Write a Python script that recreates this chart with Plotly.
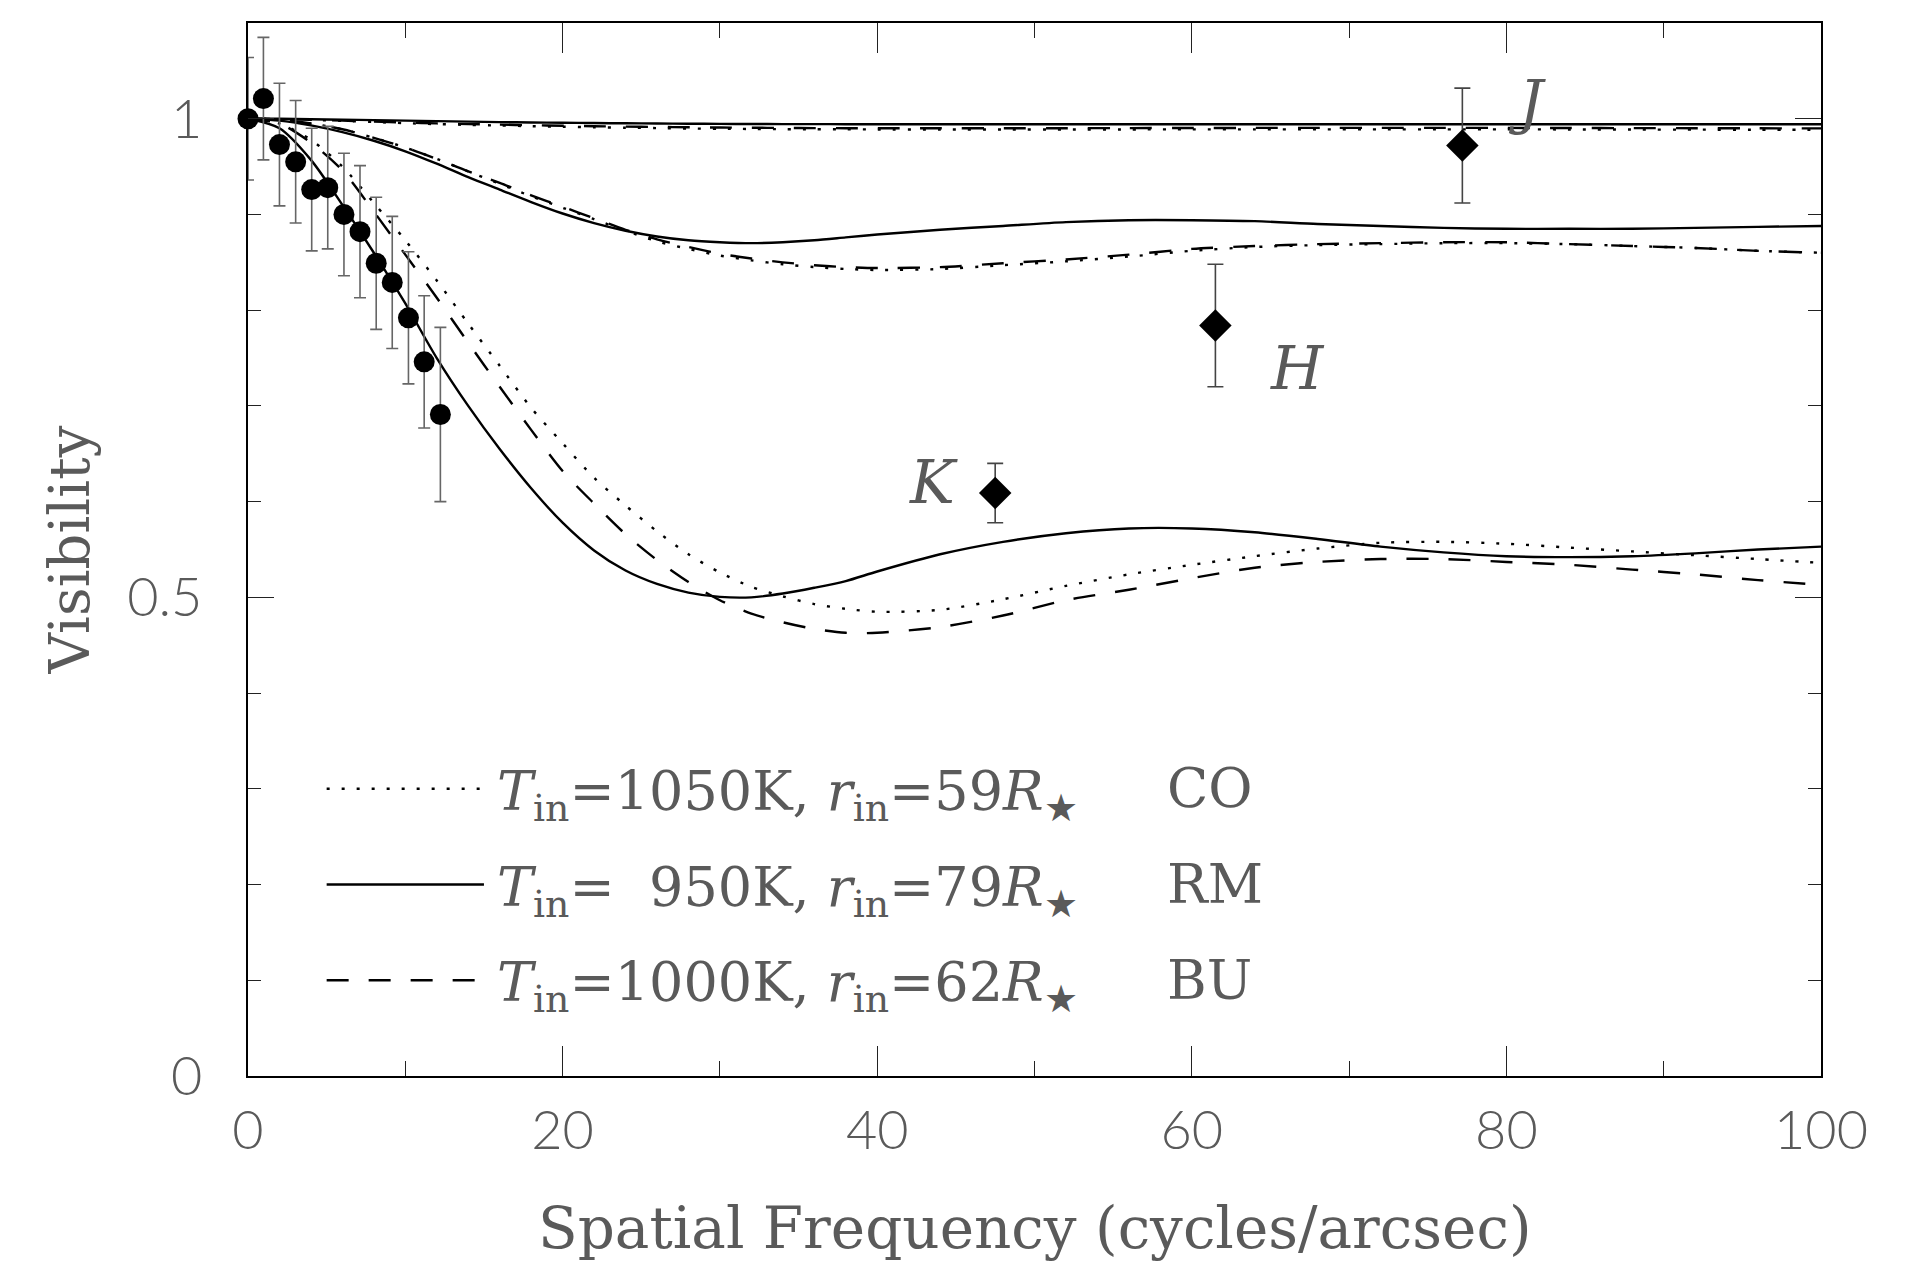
import plotly.graph_objects as go

# ---------------- data ----------------
freq = [0, 2, 4, 6, 8, 10, 12, 14, 16, 18, 20, 22, 24, 26, 28, 30, 32, 34, 36, 38,
        40, 44, 48, 52, 56, 60, 64, 68, 72, 76, 80, 84, 88, 92, 96, 100]

# K band models
k_co = [1.0, 0.995, 0.978, 0.950, 0.912, 0.873, 0.831, 0.786, 0.742, 0.698, 0.661,
        0.625, 0.596, 0.569, 0.545, 0.526, 0.511, 0.501, 0.493, 0.488, 0.485, 0.487,
        0.498, 0.512, 0.524, 0.534, 0.543, 0.551, 0.557, 0.558, 0.556, 0.552, 0.548,
        0.544, 0.540, 0.536]
k_rm = [1.0, 0.990, 0.957, 0.910, 0.860, 0.807, 0.750, 0.700, 0.655, 0.614, 0.578,
        0.549, 0.528, 0.514, 0.505, 0.5005, 0.500, 0.504, 0.510, 0.517, 0.527, 0.545,
        0.558, 0.567, 0.572, 0.572, 0.568, 0.561, 0.553, 0.547, 0.543, 0.542, 0.543,
        0.546, 0.550, 0.553]
k_bu = [1.0, 0.995, 0.975, 0.946, 0.903, 0.858, 0.813, 0.766, 0.720, 0.675, 0.632,
        0.598, 0.566, 0.539, 0.516, 0.497, 0.483, 0.474, 0.467, 0.463, 0.463, 0.469,
        0.481, 0.497, 0.508, 0.520, 0.531, 0.537, 0.540, 0.540, 0.537, 0.534, 0.529,
        0.524, 0.518, 0.513]

# H band models
h_co = [1.0, 0.999, 0.995, 0.989, 0.980, 0.970, 0.958, 0.945, 0.932, 0.919, 0.907,
        0.895, 0.883, 0.872, 0.864, 0.857, 0.852, 0.848, 0.845, 0.843, 0.842, 0.843,
        0.847, 0.851, 0.856, 0.862, 0.866, 0.868, 0.869, 0.870, 0.870, 0.869, 0.867,
        0.865, 0.862, 0.860]
h_rm = [1.0, 0.998, 0.993, 0.986, 0.977, 0.966, 0.953, 0.939, 0.926, 0.913, 0.901,
        0.891, 0.883, 0.877, 0.873, 0.871, 0.870, 0.871, 0.873, 0.876, 0.879, 0.884,
        0.888, 0.892, 0.894, 0.894, 0.893, 0.890, 0.888, 0.886, 0.885, 0.885, 0.885,
        0.886, 0.887, 0.888]
h_bu = [1.0, 0.999, 0.995, 0.989, 0.980, 0.970, 0.958, 0.945, 0.933, 0.920, 0.908,
        0.896, 0.884, 0.874, 0.866, 0.859, 0.854, 0.850, 0.847, 0.845, 0.844, 0.845,
        0.849, 0.853, 0.858, 0.864, 0.867, 0.869, 0.870, 0.871, 0.871, 0.869, 0.867,
        0.865, 0.862, 0.860]

# J band models
j_co = [1.0, 0.9996, 0.9988, 0.9978, 0.9966, 0.9954, 0.9944, 0.9936, 0.9929, 0.9922,
        0.9916, 0.9911, 0.9906, 0.9902, 0.9898, 0.9895, 0.9893, 0.9891, 0.9890, 0.9889,
        0.9888, 0.9887, 0.9887, 0.9887, 0.9888, 0.9889, 0.9889, 0.9889, 0.9889, 0.9889,
        0.9889, 0.9888, 0.9887, 0.9886, 0.9885, 0.9884]
j_rm = [1.0, 0.9999, 0.9995, 0.9990, 0.9985, 0.9980, 0.9975, 0.9970, 0.9965, 0.9961,
        0.9958, 0.9955, 0.9952, 0.9950, 0.9948, 0.9946, 0.9945, 0.9944, 0.9944, 0.9943,
        0.9943, 0.9943, 0.9943, 0.9943, 0.9943, 0.9943, 0.9943, 0.9943, 0.9943, 0.9943,
        0.9943, 0.9943, 0.9943, 0.9943, 0.9943, 0.9943]
j_bu = [1.0, 0.9997, 0.9990, 0.9980, 0.9970, 0.9960, 0.9951, 0.9944, 0.9938, 0.9932,
        0.9927, 0.9922, 0.9918, 0.9914, 0.9911, 0.9908, 0.9906, 0.9904, 0.9902, 0.9901,
        0.9900, 0.9900, 0.9900, 0.9901, 0.9902, 0.9903, 0.9904, 0.9904, 0.9904, 0.9904,
        0.9904, 0.9903, 0.9902, 0.9901, 0.9900, 0.9899]

# K-band interferometric data (circles)
circ_x = [0.0, 0.98, 2.0, 3.03, 4.05, 5.07, 6.1, 7.12, 8.15, 9.17, 10.2, 11.2, 12.23]
circ_y = [1.0, 1.021, 0.973, 0.955, 0.926, 0.928, 0.900, 0.882, 0.849, 0.829, 0.792,
          0.746, 0.691]
circ_err = [0.064, 0.064, 0.064, 0.064, 0.064, 0.064, 0.064, 0.069, 0.069, 0.069,
            0.069, 0.069, 0.091]

# J, H, K single-telescope data (diamonds)
dia_x = [47.5, 61.5, 77.2]
dia_y = [0.609, 0.784, 0.972]
dia_err = [0.031, 0.064, 0.060]

band_names = ["K", "H", "J"]
band_label_x = [43.6, 66.7, 81.3]
band_label_y = [0.621, 0.740, 1.017]

legend_line_x = [5, 15]
legend_rows_y = [0.3, 0.2, 0.1]
legend_texts = [
    "<i>T</i><sub>in</sub>=1050K, <i>r</i><sub>in</sub>=59<i>R</i><sub>\u2605</sub>",
    "<i>T</i><sub>in</sub>=\u2007950K, <i>r</i><sub>in</sub>=79<i>R</i><sub>\u2605</sub>",
    "<i>T</i><sub>in</sub>=1000K, <i>r</i><sub>in</sub>=62<i>R</i><sub>\u2605</sub>",
]
legend_codes = ["CO", "RM", "BU"]

# ---------------- styles ----------------
TXT = "#5a5a5a"
SERIF = "DejaVu Serif, Liberation Serif, serif"
SANS = "Lato, DejaVu Sans, sans-serif"
DOT = "3px,12px"
DASH = "22px,20px"
LW = 2.4
styles = {"CO": DOT, "RM": "solid", "BU": DASH}

fig = go.Figure()

models = [("CO", k_co), ("RM", k_rm), ("BU", k_bu),
          ("CO", h_co), ("RM", h_rm), ("BU", h_bu),
          ("CO", j_co), ("RM", j_rm), ("BU", j_bu)]
for code, vals in models:
    fig.add_trace(go.Scatter(x=freq, y=vals, mode="lines",
                             line=dict(color="black", width=LW, dash=styles[code],
                                       shape="spline", smoothing=0.8),
                             hoverinfo="skip", showlegend=False))

# legend samples
for code, row in zip(legend_codes, legend_rows_y):
    fig.add_trace(go.Scatter(x=legend_line_x, y=[row, row], mode="lines",
                             line=dict(color="black", width=LW, dash=styles[code]),
                             showlegend=False, hoverinfo="skip"))

fig.add_trace(go.Scatter(x=circ_x, y=circ_y, mode="markers",
                         marker=dict(symbol="circle", size=21, color="black"),
                         error_y=dict(type="data", array=circ_err, visible=True,
                                      color="#666666", thickness=1.6, width=6),
                         cliponaxis=False, showlegend=False))

fig.add_trace(go.Scatter(x=dia_x, y=dia_y, mode="markers",
                         marker=dict(symbol="diamond", size=25, color="black"),
                         error_y=dict(type="data", array=dia_err, visible=True,
                                      color="#444444", thickness=1.6, width=8),
                         showlegend=False))

annotations = []
for name, bx, by in zip(band_names, band_label_x, band_label_y):
    annotations.append(dict(x=bx, y=by, xref="x", yref="y", text="<i>%s</i>" % name,
                            showarrow=False, xanchor="center", yanchor="middle",
                            font=dict(family=SERIF, size=60, color=TXT)))
for txt, code, row in zip(legend_texts, legend_codes, legend_rows_y):
    annotations.append(dict(x=15.7, y=row, xref="x", yref="y", text=txt,
                            showarrow=False, xanchor="left", yanchor="middle", yshift=-6,
                            font=dict(family=SERIF, size=54, color=TXT)))
    annotations.append(dict(x=58.3, y=row, xref="x", yref="y", text=code,
                            showarrow=False, xanchor="left", yanchor="middle",
                            font=dict(family=SERIF, size=54, color=TXT)))

# axis titles
annotations.append(dict(x=0.5, y=-0.1443, xref="paper", yref="paper",
                        text="Spatial Frequency (cycles/arcsec)", showarrow=False,
                        xanchor="center", yanchor="middle",
                        font=dict(family=SERIF, size=58, color=TXT)))
annotations.append(dict(x=-0.1132, y=0.5, xref="paper", yref="paper",
                        text="Visibility", showarrow=False, textangle=-90,
                        xanchor="center", yanchor="middle",
                        font=dict(family=SERIF, size=56, color=TXT)))

axis_common = dict(showline=True, linecolor="black", linewidth=1.5, mirror="ticks",
                   ticks="inside", tickcolor="#222222", tickwidth=1.3,
                   showgrid=False, zeroline=False,
                   tickfont=dict(family=SANS, size=54, color=TXT, weight=300))

fig.update_layout(
    width=1923, height=1262,
    margin=dict(l=248, r=102, t=23, b=186),
    paper_bgcolor="white", plot_bgcolor="white",
    xaxis=dict(range=[0, 100], tick0=0, dtick=20, ticklen=30,
               minor=dict(ticks="inside", dtick=10, ticklen=15, tickcolor="#222222",
                          tickwidth=1.3),
               ticklabelstandoff=6, **axis_common),
    yaxis=dict(range=[0, 1.1], tick0=0, dtick=0.5, ticklen=26,
               minor=dict(ticks="inside", dtick=0.1, ticklen=13, tickcolor="#222222",
                          tickwidth=1.3),
               ticklabelstandoff=33, **axis_common),
    annotations=annotations,
    showlegend=False,
)

fig.write_html("out.html", config={"displayModeBar": False},
               post_script="document.body.style.margin='0';")
